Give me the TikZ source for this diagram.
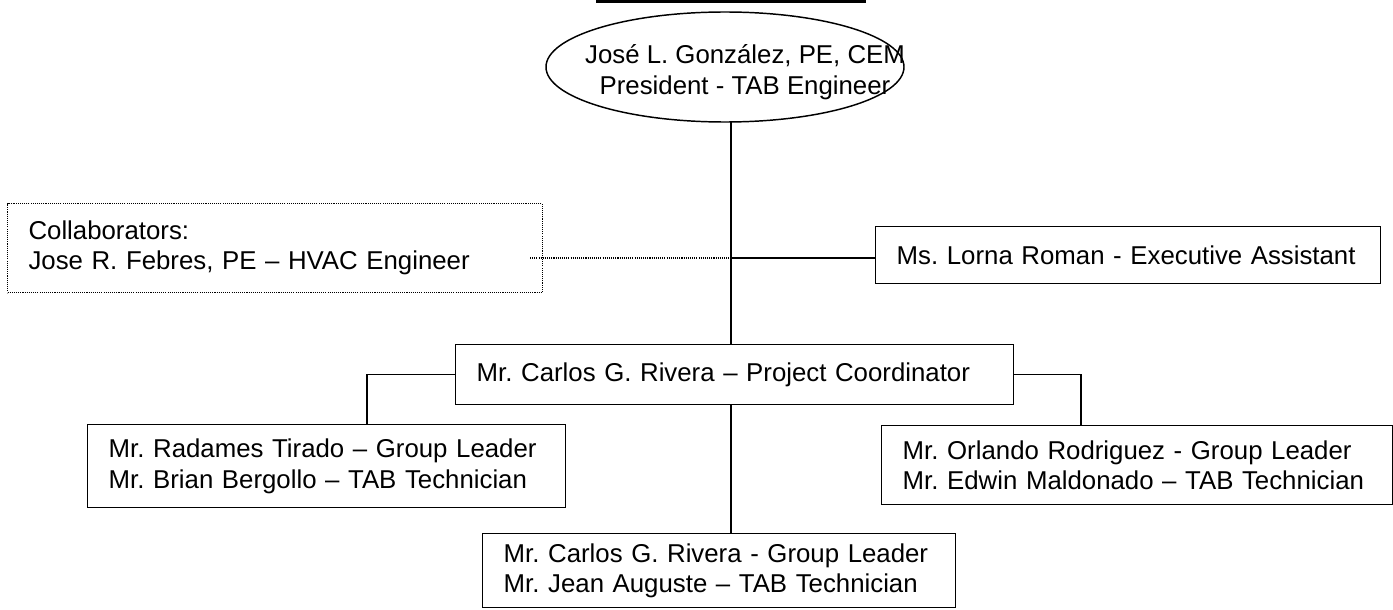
\documentclass[tikz,border=0pt]{standalone}
\usepackage{fontspec}
\setmainfont{Liberation Sans}
\usetikzlibrary{shapes.geometric}
\newcommand\chartfont{\fontsize{19.35pt}{22.9pt}\selectfont\frenchspacing}
\def\px{0.75pt}
\tikzset{
  orgbox/.style={draw, line width=1.1pt, anchor=north west, align=left,
    inner xsep=21*\px, inner ysep=0pt, font=\chartfont},
  collabbox/.style={orgbox, line width=0.8pt, dash pattern=on 0.8pt off 0.8pt},
  link/.style={line width=1.1pt},
  dotlink/.style={line width=0.8pt, dash pattern=on 0.8pt off 0.8pt}
}
\begin{document}
\begin{tikzpicture}[x=0.75pt, y=-0.75pt]
\useasboundingbox (0,0) rectangle (1393,610);
% heading underline (cut off)
\fill (596,0) rectangle (866,3.5);
% president
\node[draw, ellipse, line width=1.1pt, minimum width=358*\px, minimum height=110*\px, inner sep=0pt] (pres) at (725,67) {};
\node[font=\chartfont, align=center, inner sep=0pt] (prestext) at (745,72) {José L. González, PE, CEM\\President - TAB Engineer};
% boxes
\node[collabbox, text width=493*\px, minimum height=89*\px] (collab) at (7,203) {\mbox{Collaborators:}\\\mbox{Jose R. Febres, PE – HVAC Engineer}};
\node[orgbox, text width=463*\px, minimum height=57*\px] (lorna) at (875,226) {\mbox{Ms. Lorna Roman - Executive Assistant}};
\node[orgbox, text width=516*\px, minimum height=60*\px] (pc) at (455,344) {\mbox{Mr. Carlos G. Rivera – Project Coordinator}};
\node[orgbox, text width=436*\px, minimum height=83*\px] (rad) at (87,424) {\mbox{Mr. Radames Tirado – Group Leader}\\\mbox{Mr. Brian Bergollo – TAB Technician}};
\node[orgbox, text width=469*\px, minimum height=79*\px] (orl) at (881,425) {\mbox{Mr. Orlando Rodriguez - Group Leader}\\\mbox{Mr. Edwin Maldonado – TAB Technician}};
\node[orgbox, text width=431*\px, minimum height=74*\px] (jean) at (482,533) {\mbox{Mr. Carlos G. Rivera - Group Leader}\\\mbox{Mr. Jean Auguste – TAB Technician}};
% connector points
\coordinate (presfoot) at (731,122);
\coordinate (junction) at (731,258);
\coordinate (dotstart) at (530,258);
\coordinate (radtop) at (367,424);
\coordinate (orltop) at (1081,425);
% connectors
\draw[link] (presfoot) -- (presfoot |- pc.north);
\draw[dotlink] (dotstart) -- (junction);
\draw[link] (junction) -- (junction -| lorna.west);
\draw[link] (pc.west) -| (radtop);
\draw[link] (pc.east) -| (orltop);
\draw[link] (presfoot |- pc.south) -- (presfoot |- jean.north);
\end{tikzpicture}
\end{document}
